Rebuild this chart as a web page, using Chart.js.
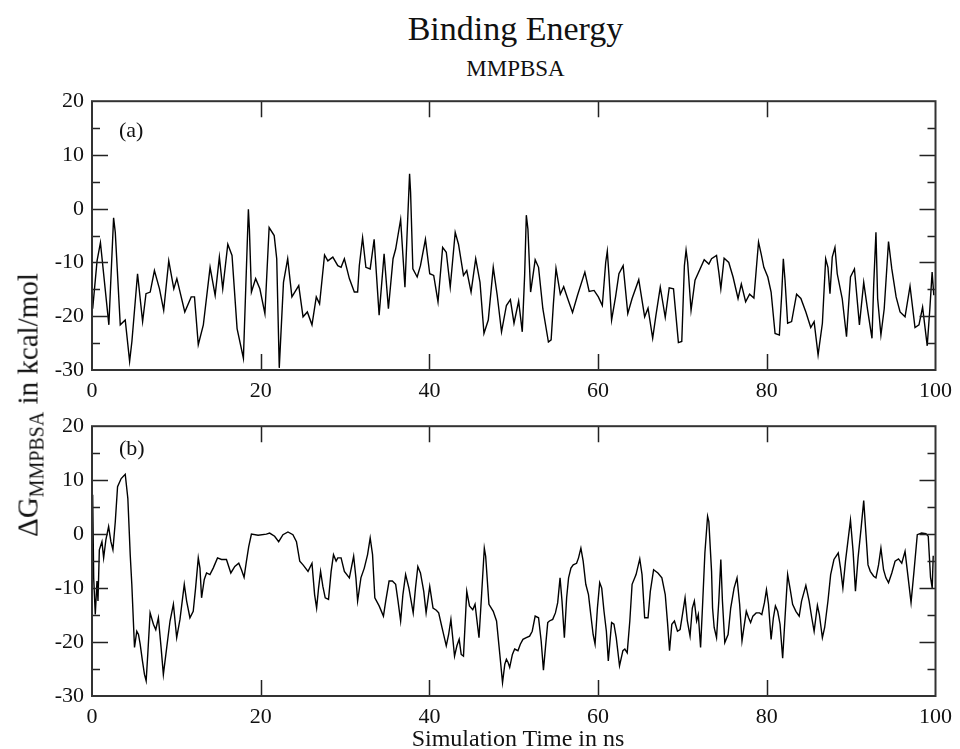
<!DOCTYPE html>
<html>
<head>
<meta charset="utf-8">
<script src="https://cdn.jsdelivr.net/npm/chart.js@4/dist/chart.umd.min.js"></script>
<style>
  html, body { margin: 0; padding: 0; background: #fff; }
  #wrap { position: relative; width: 960px; height: 749px; overflow: hidden; background: #fff; font-family: "Liberation Serif", "DejaVu Serif", serif; color: #111; }
  .cv { position: absolute; left: 0; width: 960px; }
  #title { position: absolute; left: 0; width: 1031px; text-align: center; top: 12px; font-size: 34px; line-height: 34px; }
  #subtitle { position: absolute; left: 0; width: 1031px; text-align: center; top: 57px; font-size: 23px; line-height: 23px; }
  #xtitle { position: absolute; left: 0; width: 1036px; text-align: center; top: 726px; font-size: 24px; line-height: 24px; }
  #ytitle { position: absolute; left: 28px; top: 405px; transform: translate(-50%, -50%) rotate(-90deg); white-space: nowrap; font-size: 29px; line-height: 29px; }
  #ytitle sub { font-size: 20px; vertical-align: -6px; line-height: 0; }
</style>
</head>
<body>
<div id="wrap">
  <div id="title">Binding Energy</div>
  <div id="subtitle">MMPBSA</div>
  <canvas id="cA" class="cv" style="top:80px;height:330px" width="960" height="330"></canvas>
  <canvas id="cB" class="cv" style="top:405px;height:330px" width="960" height="330"></canvas>
  <div id="ytitle">&Delta;G<sub>MMPBSA</sub> in kcal/mol</div>
  <div id="xtitle">Simulation Time in ns</div>
</div>
<script>
// ---- tick labels ----
const xTickValues = [0, 20, 40, 60, 80, 100];
const yTickValues = [-30, -20, -10, 0, 10, 20];

// ---- panel (a) ----
const timeA = [0.08,0.6,1.0,2.0,2.56,2.76,3.35,3.94,4.46,4.73,5.4,6.0,6.4,6.9,7.4,8.0,8.5,9.1,9.7,10.06,11.0,11.76,12.15,12.6,13.2,14.0,14.6,15.1,15.5,16.1,16.6,17.2,17.95,18.54,18.66,18.9,19.4,19.9,20.5,21.0,21.6,21.9,22.2,22.7,23.2,23.7,
24.51,25.02,25.53,26.08,26.59,26.98,27.57,27.96,28.55,29.14,29.53,29.92,30.51,31.1,31.49,31.69,32.08,32.47,32.98,33.45,34.04,34.63,35.14,35.69,36.0,36.59,37.1,37.37,37.65,37.77,38.04,38.55,38.94,39.53,40.04,40.51,41.02,41.57,42.0,42.47,43.06,43.45,44.04,44.43,44.94,45.49,46.0,46.47,46.98,47.57,48.04,48.55,
49.13,49.6,50.03,50.58,51.01,51.29,51.49,51.68,52.0,52.54,52.94,53.45,54.11,54.43,54.7,55.01,55.52,55.92,56.39,56.97,57.56,58.43,58.94,59.52,60.03,60.5,60.9,61.09,61.29,61.6,62.07,62.47,62.97,63.52,64.03,64.82,65.52,65.92,66.47,66.86,67.37,67.96,68.43,68.94,69.52,69.92,70.23,70.43,70.62,71.02,71.49,72.58,73.13,
73.45,74.04,74.31,74.55,74.94,75.49,76.0,76.59,76.98,77.49,77.96,78.47,78.74,79.02,79.33,79.65,80.12,80.51,80.98,81.49,81.76,81.96,82.16,82.47,82.94,83.53,84.04,84.63,85.21,85.61,86.08,86.59,86.98,87.25,87.49,87.76,88.08,88.35,88.94,89.45,89.92,90.39,90.98,91.49,91.96,92.47,92.67,92.94,93.14,93.53,93.92,94.43,94.82,95.33,95.8,96.39,96.98,97.57,98.04,98.47,99.02,99.33,99.6,99.8];
const energyA = [-18.6,-9.7,-6.3,-21.6,-1.7,-4.4,-21.6,-20.7,-28.4,-24.7,-12.1,-21.0,-15.8,-15.5,-11.5,-14.9,-18.9,-9.7,-14.9,-13.0,-19.2,-16.4,-16.4,-25.3,-21.6,-10.9,-16.1,-9.0,-14.9,-6.6,-8.7,-22.3,-27.8,-0.1,-3.8,-15.5,-13.0,-14.9,-19.5,-3.5,-5.0,-9.3,-29.6,-13.7,-9.3,-16.4,
-14.3,-20.1,-19.2,-21.6,-16.4,-17.7,-8.6,-9.7,-9.0,-10.6,-10.9,-9.3,-13.0,-15.5,-15.5,-10.6,-5.4,-10.9,-11.2,-5.7,-19.8,-8.4,-18.6,-9.3,-7.5,-2.0,-14.6,-4.1,6.5,3.0,-11.2,-12.7,-10.6,-5.7,-12.1,-12.4,-17.3,-7.2,-8.1,-14.6,-4.4,-6.6,-12.4,-11.5,-15.5,-9.3,-13.7,-23.2,-20.7,-10.9,-16.1,-22.9,
-18.0,-16.9,-21.3,-17.2,-22.9,-12.4,-1.2,-3.8,-15.5,-9.5,-10.9,-18.6,-24.8,-24.4,-17.7,-11.1,-15.9,-14.5,-16.7,-19.3,-16.1,-11.8,-15.4,-15.2,-16.4,-18.0,-10.0,-7.9,-12.4,-20.7,-16.4,-12.1,-10.6,-19.5,-16.7,-13.2,-20.1,-18.5,-24.1,-19.8,-14.6,-20.2,-14.7,-14.9,-24.9,-24.7,-10.6,-7.7,-10.0,-18.9,-13.3,-9.5,-10.3,
-9.3,-8.7,-11.8,-14.9,-9.2,-10.0,-12.7,-16.7,-14.0,-17.3,-15.9,-16.6,-11.5,-6.2,-8.4,-10.9,-12.7,-15.5,-23.2,-23.5,-16.1,-9.3,-13.3,-21.3,-21.0,-15.9,-16.7,-19.2,-22.1,-21.0,-27.2,-21.3,-9.3,-10.9,-15.8,-9.0,-7.2,-12.1,-16.7,-23.8,-12.7,-11.2,-21.6,-13.7,-18.9,-24.1,-14.3,-4.4,-16.7,-23.5,-18.6,-6.1,-11.2,-16.4,-19.2,-20.1,-14.4,-22.1,-21.6,-18.3,-25.5,-18.6,-11.8,-16.1];

// ---- panel (b) ----
const timeB = [0.08,0.2,0.39,0.59,0.71,0.87,1.18,1.38,1.65,1.97,2.24,2.48,2.76,3.03,3.46,3.94,4.25,4.53,4.72,4.92,5.04,5.31,5.51,5.71,5.98,6.22,6.42,6.61,6.89,7.28,7.56,7.87,8.19,8.46,8.86,9.25,9.65,10.04,10.43,10.94,11.22,11.61,12.0,12.28,12.6,12.8,12.99,13.31,13.58,13.98,14.37,14.88,15.35,15.94,16.46,16.93,17.4,17.72,18.03,18.31,18.58,18.9,19.69,20.67,21.06,21.65,22.13,22.64,23.23,23.82,
24.24,24.63,25.02,25.61,26.08,26.39,26.63,26.86,27.1,27.37,27.65,28.04,28.35,28.63,28.94,29.14,29.53,29.92,30.51,31.02,31.29,31.49,31.88,32.28,32.67,32.98,33.26,33.53,34.04,34.55,34.82,35.22,35.61,36.0,36.28,36.59,36.86,37.18,37.57,38.08,38.35,38.63,38.94,39.33,39.61,40.04,40.43,40.82,41.1,41.49,42.0,42.28,42.55,42.98,43.26,43.53,43.77,44.04,44.43,44.75,45.14,45.41,45.88,46.2,46.51,46.67,47.06,47.57,47.96,48.35,48.67,
48.94,49.13,49.33,49.52,49.84,50.11,50.5,50.78,51.09,51.49,51.88,52.19,52.54,52.94,53.25,53.52,53.76,54.03,54.23,54.62,54.94,55.21,55.49,55.72,56.0,56.27,56.5,56.78,57.05,57.45,57.68,57.96,58.23,58.54,58.86,59.13,59.41,59.64,59.92,60.19,60.43,60.7,60.98,61.21,61.6,61.88,62.15,62.54,62.94,63.17,63.45,63.76,64.03,64.5,64.94,65.21,65.52,65.92,66.19,66.58,67.09,67.56,67.96,68.23,68.47,68.74,69.05,69.41,69.72,70.0,70.31,70.58,70.9,71.17,71.41,71.68,71.88,72.15,72.39,72.66,72.98,73.13,
73.45,73.57,73.76,74.04,74.31,74.55,74.74,75.02,75.41,75.72,76.12,76.47,76.78,77.06,77.29,77.57,77.84,78.08,78.35,78.74,79.14,79.41,79.72,79.96,80.2,80.51,80.78,81.02,81.29,81.57,81.88,82.16,82.47,82.78,83.06,83.45,83.84,84.12,84.63,85.02,85.33,85.61,86.0,86.23,86.59,86.86,87.25,87.57,87.96,88.47,88.74,89.02,89.33,89.61,89.92,90.23,90.51,90.82,91.18,91.49,91.76,92.0,92.27,92.67,92.94,93.25,93.53,93.84,94.12,94.43,94.82,95.21,95.61,96.0,96.39,96.78,97.1,97.45,97.84,98.35,98.86,99.14,99.41,99.61,99.73];
const energyB = [7.3,-8.1,-14.9,-8.7,-12.4,-2.9,-1.4,-4.4,-1.0,1.4,-1.4,-2.9,2.3,8.8,10.3,11.1,6.6,-3.8,-9.3,-16.7,-21.0,-18.0,-18.6,-20.4,-23.5,-26.0,-27.2,-22.3,-14.6,-16.7,-17.7,-15.5,-21.0,-26.0,-21.0,-16.1,-13.0,-19.2,-15.8,-9.3,-12.4,-15.5,-14.3,-10.0,-4.4,-6.3,-11.8,-8.4,-7.2,-7.5,-6.3,-4.4,-4.7,-4.7,-7.2,-6.0,-5.4,-6.6,-8.0,-5.0,-2.3,0.0,-0.2,0.0,0.2,-0.4,-1.4,-0.1,0.4,-0.1,
-1.4,-5.0,-5.7,-6.9,-5.4,-11.2,-13.7,-10.0,-6.9,-9.7,-11.8,-12.1,-6.9,-3.8,-5.0,-4.4,-4.4,-6.9,-8.1,-4.1,-8.1,-12.4,-8.1,-6.3,-3.8,-0.7,-3.8,-11.8,-13.3,-15.2,-12.4,-8.7,-8.7,-9.3,-12.4,-16.1,-11.2,-7.5,-10.0,-14.6,-10.0,-6.0,-7.2,-10.6,-14.6,-9.7,-13.7,-14.1,-14.6,-17.3,-20.7,-18.6,-15.8,-22.6,-20.7,-19.5,-22.3,-22.6,-10.6,-13.3,-14.0,-13.0,-19.2,-10.9,-2.6,-4.1,-13.0,-14.3,-16.1,-22.3,-27.5,
-24.1,-23.2,-23.8,-24.7,-22.3,-21.3,-21.6,-20.4,-19.5,-19.2,-18.9,-18.0,-15.2,-15.5,-19.8,-25.2,-21.0,-16.4,-16.1,-15.8,-14.6,-12.7,-8.1,-12.4,-19.2,-11.8,-8.1,-6.3,-5.7,-5.4,-4.4,-2.6,-5.0,-9.3,-11.2,-14.9,-18.6,-20.4,-13.7,-9.0,-10.0,-14.3,-18.0,-23.5,-16.4,-16.7,-19.2,-24.4,-21.6,-21.3,-22.0,-16.1,-9.3,-7.5,-4.6,-7.5,-15.5,-15.5,-10.6,-6.6,-7.2,-8.1,-11.2,-16.4,-21.6,-16.7,-16.1,-18.0,-17.7,-14.9,-11.8,-16.1,-18.9,-13.7,-12.4,-16.1,-14.9,-21.0,-13.0,-3.5,3.3,2.3,
-6.9,-13.7,-17.3,-19.2,-12.4,-4.7,-12.4,-20.1,-18.6,-13.7,-10.0,-8.1,-13.0,-19.8,-17.3,-14.3,-15.5,-16.4,-15.2,-14.6,-14.6,-14.9,-12.7,-10.3,-13.0,-19.5,-15.5,-13.3,-14.3,-16.7,-23.0,-15.5,-7.5,-10.3,-13.0,-14.3,-15.2,-12.4,-9.5,-12.4,-15.5,-18.0,-13.2,-14.9,-19.2,-17.3,-12.4,-7.5,-4.7,-3.5,-6.3,-10.0,-5.0,-1.4,2.6,-3.2,-10.6,-4.4,1.1,6.2,-0.1,-5.7,-6.9,-7.8,-8.1,-5.7,-2.6,-6.6,-8.1,-9.0,-7.2,-5.0,-4.6,-5.4,-3.2,-8.4,-12.7,-6.9,-0.1,0.2,0.1,-0.4,-8.0,-10.0,-4.0];

const panelLabels = ['(a)', '(b)'];

// ---- drawing helpers ----
const FONT = '"Liberation Serif", "DejaVu Serif", serif';
const frameTicks = {
  id: 'frameTicks',
  afterDraw(chart, args, opts) {
    const { ctx, chartArea: { left, right, top, bottom }, scales: { x, y } } = chart;
    ctx.save();
    ctx.strokeStyle = '#222';
    ctx.lineWidth = 1.5;
    x.ticks.forEach(t => {
      if (t.value <= x.min || t.value >= x.max) return;
      const px = Math.round(x.getPixelForValue(t.value)) + 0.5;
      ctx.beginPath();
      ctx.moveTo(px, bottom); ctx.lineTo(px, bottom - 16);
      ctx.moveTo(px, top); ctx.lineTo(px, top + 16);
      ctx.stroke();
    });
    y.ticks.forEach((t, i) => {
      const vals = [[t.value, 16]];
      if (i < y.ticks.length - 1) vals.push([(t.value + y.ticks[i + 1].value) / 2, 8]);
      vals.forEach(([v, len]) => {
        if (v <= y.min || v >= y.max) return;
        const py = Math.round(y.getPixelForValue(v)) + 0.5;
        ctx.beginPath();
        ctx.moveTo(left, py); ctx.lineTo(left + len, py);
        ctx.moveTo(right, py); ctx.lineTo(right - len, py);
        ctx.stroke();
      });
    });
    ctx.lineWidth = 2;
    ctx.strokeStyle = '#333';
    ctx.strokeRect(left, top, right - left, bottom - top);
    ctx.fillStyle = '#111';
    ctx.font = '22px ' + FONT;
    ctx.textBaseline = 'middle';
    ctx.textAlign = 'left';
    ctx.fillText(opts.label, left + opts.lx, top + opts.ly);
    ctx.restore();
  }
};

function makeChart(id, times, values, label, padTop, xHeight, ly) {
  const pts = times.map((t, i) => ({ x: t, y: values[i] }));
  return new Chart(document.getElementById(id), {
    type: 'line',
    data: { datasets: [{ data: pts, borderColor: '#000', borderWidth: 1.4, pointRadius: 0, tension: 0, fill: false }] },
    options: {
      responsive: false,
      animation: false,
      events: [],
      layout: { padding: { top: padTop, right: 21, left: 0, bottom: 0 } },
      plugins: { legend: { display: false }, tooltip: { enabled: false }, title: { display: false },
                 frameTicks: { label: label, lx: 27, ly: ly } },
      scales: {
        x: {
          type: 'linear', min: 0, max: 100,
          afterBuildTicks: s => { s.ticks = xTickValues.map(v => ({ value: v })); },
          afterFit: s => { s.height = xHeight; },
          grid: { display: false, drawTicks: false, tickLength: 0 },
          border: { display: false },
          ticks: { font: { family: FONT, size: 22 }, color: '#111', padding: 8, maxRotation: 0, autoSkip: false }
        },
        y: {
          type: 'linear', min: -30, max: 20,
          afterBuildTicks: s => { s.ticks = yTickValues.map(v => ({ value: v })); },
          afterFit: s => { s.width = 92; },
          grid: { display: false, drawTicks: false, tickLength: 0 },
          border: { display: false },
          ticks: { font: { family: FONT, size: 22 }, color: '#111', padding: 8 }
        }
      }
    },
    plugins: [frameTicks]
  });
}

makeChart('cA', timeA, energyA, panelLabels[0], 18, 40, 30);
makeChart('cB', timeB, energyB, panelLabels[1], 19, 39, 23);
</script>
</body>
</html>
